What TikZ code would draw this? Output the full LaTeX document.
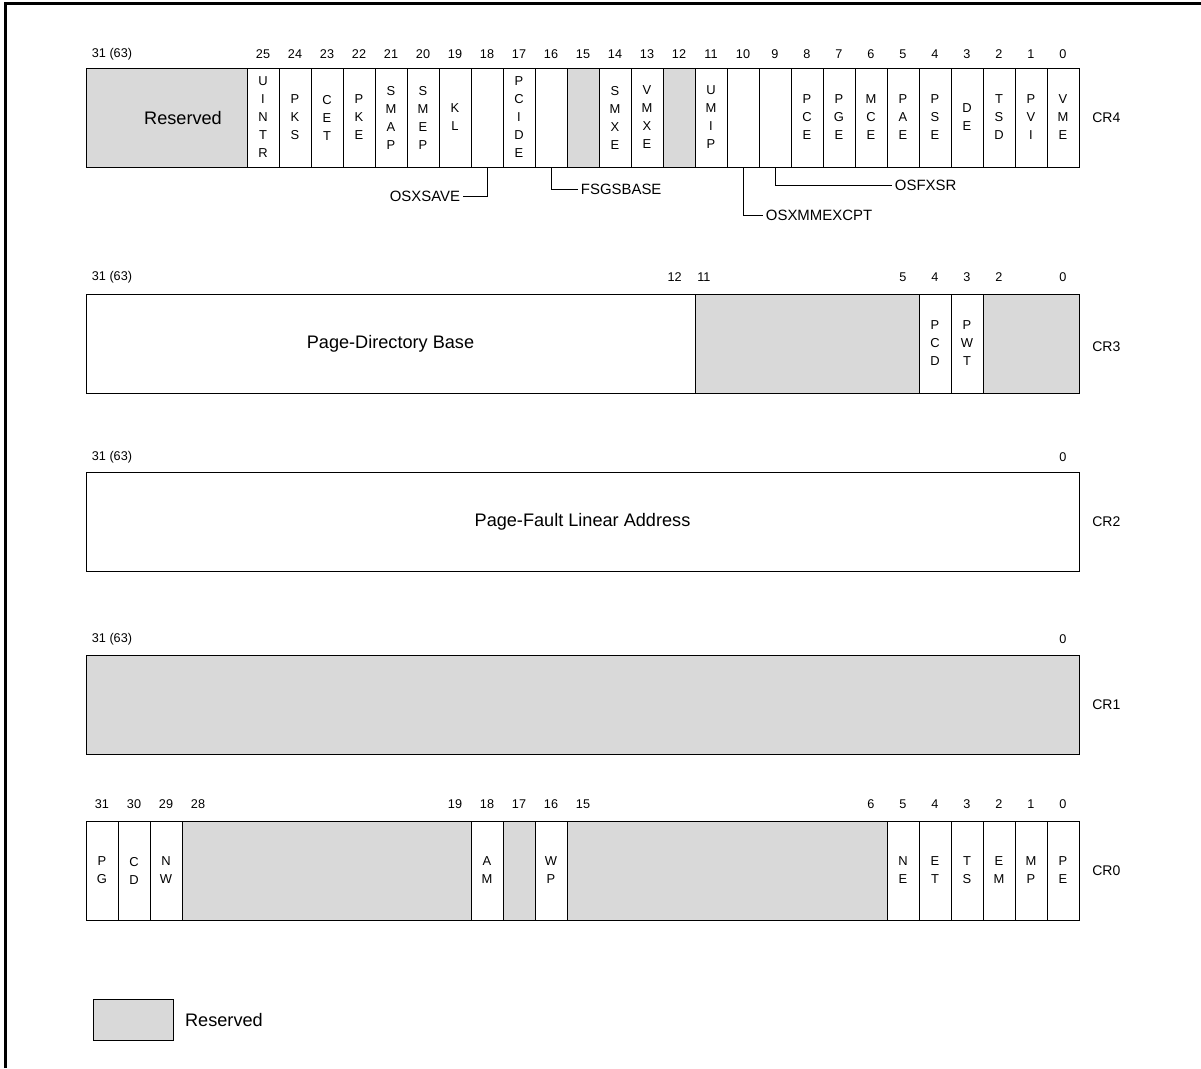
\documentclass[tikz,border=0pt]{standalone}
\usepackage{fontspec}
\setmainfont{Liberation Sans}
\usetikzlibrary{positioning,fit}
\definecolor{rsvgray}{RGB}{217,217,217}
\tikzset{
  cell/.style={draw,line width=0.75pt,inner sep=0pt,minimum width=24pt,minimum height=74.25pt,
    align=center,font=\fontsize{9.7pt}{13.5pt}\selectfont},
  rsv/.style={fill=rsvgray},
  blk/.style={draw,line width=0.75pt,inner sep=0pt},
  bitno/.style={inner sep=0pt,font=\fontsize{9.5pt}{11pt}\selectfont},   % bit positions
  fld/.style={font=\fontsize{13.6pt}{16pt}\selectfont},
  crname/.style={anchor=west,inner sep=0pt,font=\fontsize{10.5pt}{12pt}\selectfont},
  callout/.style={inner sep=2pt,font=\fontsize{11.2pt}{13pt}\selectfont},
  lead/.style={line width=0.75pt},
  frame/.style={line width=1.9pt},
}
\begin{document}
\begin{tikzpicture}[x=0.75pt,y=-0.75pt]
  \useasboundingbox (0,0) rectangle (1201,1068);
  \draw[frame] (5.5,1068) -- (5.5,3.7) -- (1201,3.7);
  % ---- CR4 ----
  \node[blk,rsv,fit={(86,68) (247,167)}] (c4-rsv) {};
  \node[fld] (c4-rtxt) at (183,118) {Reserved};
  \foreach \bit/\txt in {25/{U\\I\\N\\T\\R},24/{P\\K\\S},23/{C\\E\\T},22/{P\\K\\E},21/{S\\M\\A\\P},
      20/{S\\M\\E\\P},19/{K\\L},18/{},17/{P\\C\\I\\D\\E},16/{},14/{S\\M\\X\\E},13/{V\\M\\X\\E},
      11/{U\\M\\I\\P},10/{},9/{},8/{P\\C\\E},7/{P\\G\\E},6/{M\\C\\E},5/{P\\A\\E},4/{P\\S\\E},
      3/{D\\E},2/{T\\S\\D},1/{P\\V\\I},0/{V\\M\\E}}
    \node[cell] (c4-\bit) at ({1063-32*\bit},117.5) {\txt};
  \foreach \bit in {15,12} \node[cell,rsv] (c4-\bit) at ({1063-32*\bit},117.5) {};
  \node[bitno] (n4-hi) at (112,54) {31 (63)};
  \foreach \bit in {0,...,25} \node[bitno] (n4-\bit) at ({1063-32*\bit},54) {\bit};
  \node[crname] (cr4) at (1092,118) {CR4};
  % flags without letters in their cell
  \node[callout,anchor=east] (osxsave) at (463,196) {OSXSAVE};
  \node[callout,anchor=west] (fsgs) at (578,189) {FSGSBASE};
  \node[callout,anchor=west] (osxmm) at (763,215) {OSXMMEXCPT};
  \node[callout,anchor=west] (osfx) at (892,185) {OSFXSR};
  \draw[lead] (c4-18.south) |- (osxsave.east);
  \draw[lead] (c4-16.south) |- (fsgs.west);
  \draw[lead] (c4-10.south) |- (osxmm.west);
  \draw[lead] (c4-9.south) |- (osfx.west);
  % ---- CR3 ----
  \node[blk,fit={(86,294) (695,393)}] (c3-base) {};
  \node[fld] (c3-txt) at (c3-base.center) {Page-Directory Base};
  \node[blk,rsv,fit={(695,294) (919,393)}] (c3-mid) {};
  \node[blk,rsv,fit={(983,294) (1079,393)}] (c3-lo) {};
  \foreach \bit/\txt in {4/{P\\C\\D},3/{P\\W\\T}}
    \node[cell] (c3-\bit) at ({1063-32*\bit},343.5) {\txt};
  \node[bitno] (n3-hi) at (112,277) {31 (63)};
  \node[bitno,anchor=east] (n3-12) at (682,277) {12};
  \node[bitno,anchor=west] (n3-11) at (697,277) {11};
  \foreach \bit in {5,4,3,2,0} \node[bitno] (n3-\bit) at ({1063-32*\bit},277) {\bit};
  \node[crname] (cr3) at (1092,347) {CR3};
  % ---- CR2 ----
  \node[blk,fit={(86,472) (1079,571)}] (c2) {};
  \node[fld] (c2-txt) at (c2.center) {Page-Fault Linear Address};
  \node[bitno] (n2-hi) at (112,457) {31 (63)};
  \node[bitno] (n2-0) at (1063,457) {0};
  \node[crname] (cr2) at (1092,522) {CR2};
  % ---- CR1 ----
  \node[blk,rsv,fit={(86,655) (1079,754)}] (c1) {};
  \node[bitno] (n1-hi) at (112,639) {31 (63)};
  \node[bitno] (n1-0) at (1063,639) {0};
  \node[crname] (cr1) at (1092,705) {CR1};
  % ---- CR0 ----
  \node[blk,rsv,fit={(182,821) (471,920)}] (c0-mid) {};
  \node[blk,rsv,fit={(567,821) (887,920)}] (c0-low) {};
  \foreach \bit/\txt in {31/{P\\G},30/{C\\D},29/{N\\W}}
    \node[cell] (c0-\bit) at ({102+32*(31-\bit)},870.5) {\txt};
  \foreach \bit/\txt in {18/{A\\M},16/{W\\P},5/{N\\E},4/{E\\T},3/{T\\S},2/{E\\M},1/{M\\P},0/{P\\E}}
    \node[cell] (c0-\bit) at ({1063-32*\bit},870.5) {\txt};
  \node[cell,rsv] (c0-17) at ({1063-32*17},870.5) {};
  \foreach \bit/\x in {31/102,30/134,29/166,28/198,19/455}
    \node[bitno] (n0-\bit) at (\x,804) {\bit};
  \foreach \bit in {18,17,16,15,6,5,4,3,2,1,0}
    \node[bitno] (n0-\bit) at ({1063-32*\bit},804) {\bit};
  \node[crname] (cr0) at (1092,871) {CR0};
  % ---- legend ----
  \node[blk,rsv,fit={(93,999) (173,1040)}] (leg) {};
  \node[fld,right=5.2pt of leg] (legtxt) {Reserved};
\end{tikzpicture}
\end{document}
